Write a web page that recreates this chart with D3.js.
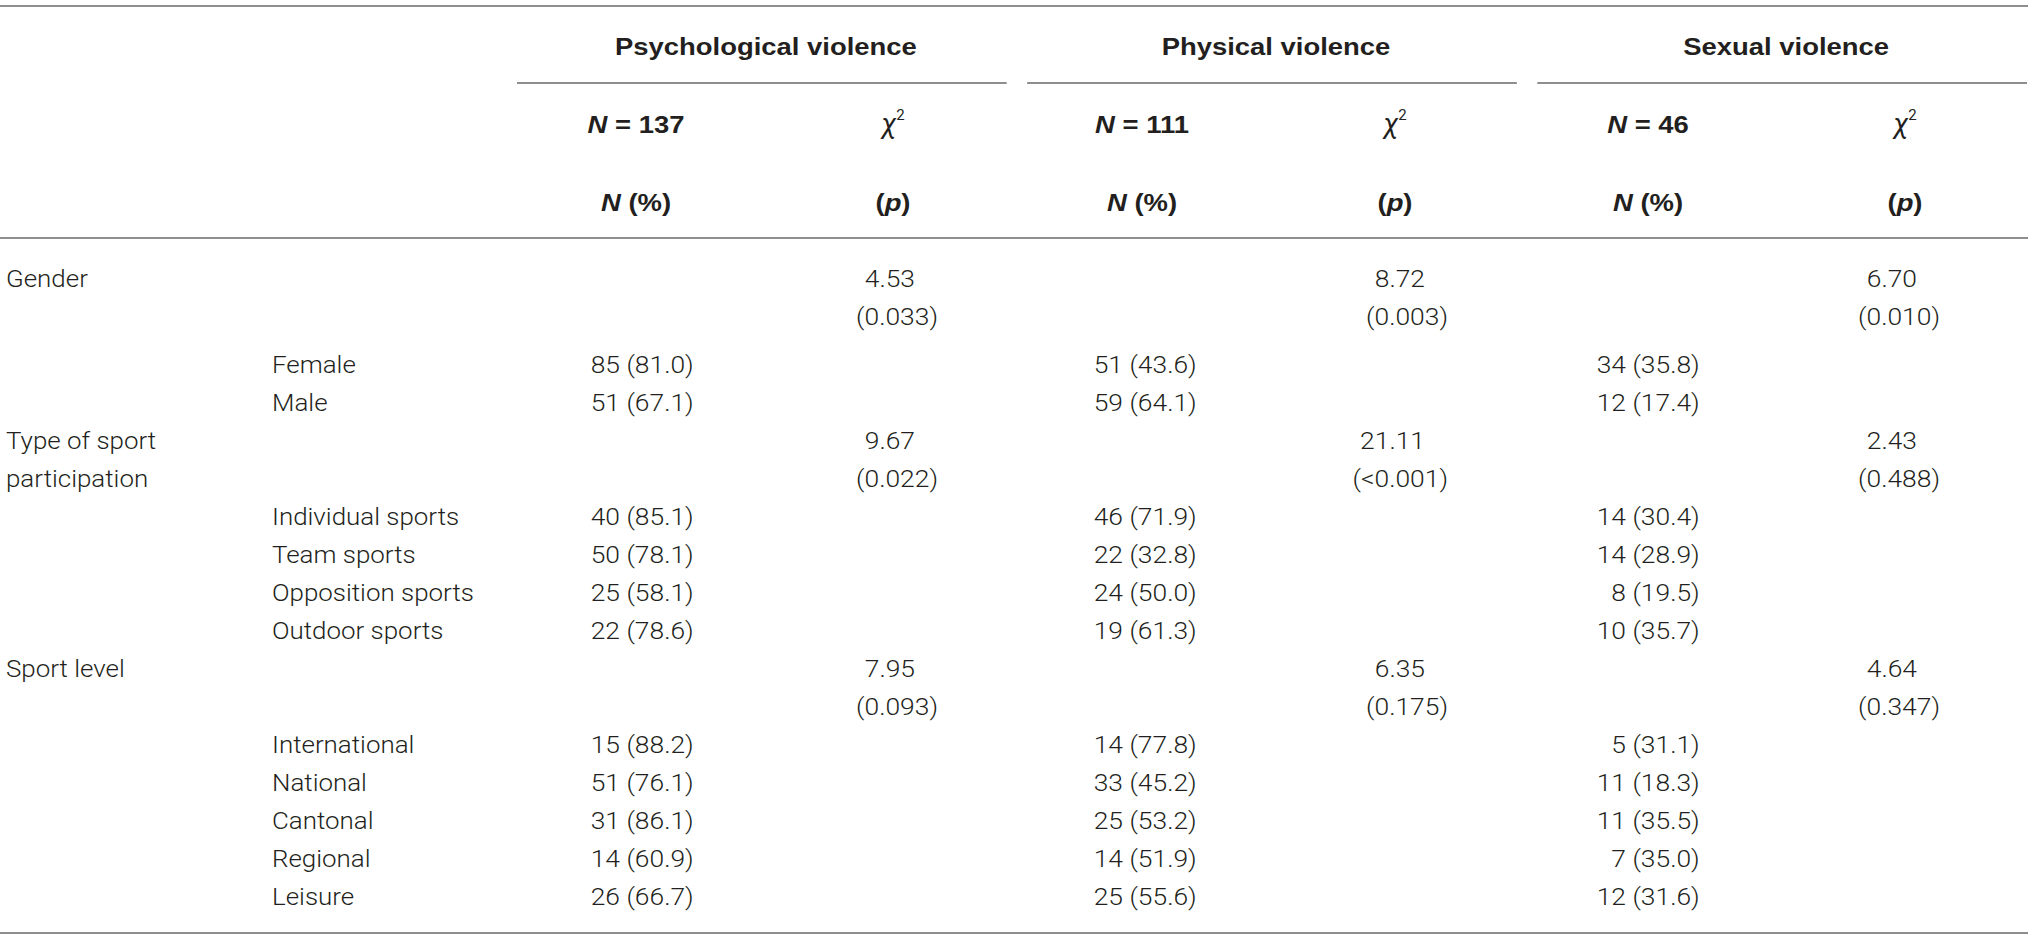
<!DOCTYPE html>
<html>
<head>
<meta charset="utf-8">
<script src="https://cdn.jsdelivr.net/npm/d3@7"></script>
<style>
  body { margin: 0; background: #fff; }
</style>
</head>
<body>
<div id="chart"></div>
<script>
const groups = ["Psychological violence", "Physical violence", "Sexual violence"]
const groupN = [137, 111, 46]
const variables = ["Gender", "Type of sport participation", "Sport level"]
const categories = [
    ["Female", "Male"],
    ["Individual sports", "Team sports", "Opposition sports", "Outdoor sports"],
    ["International", "National", "Cantonal", "Regional", "Leisure"]
]

const psychN   = [85, 51, 40, 50, 25, 22, 15, 51, 31, 14, 26]
const psychPct = [81.0, 67.1, 85.1, 78.1, 58.1, 78.6, 88.2, 76.1, 86.1, 60.9, 66.7]
const physN    = [51, 59, 46, 22, 24, 19, 14, 33, 25, 14, 25]
const physPct  = [43.6, 64.1, 71.9, 32.8, 50.0, 61.3, 77.8, 45.2, 53.2, 51.9, 55.6]
const sexN     = [34, 12, 14, 14, 8, 10, 5, 11, 11, 7, 12]
const sexPct   = [35.8, 17.4, 30.4, 28.9, 19.5, 35.7, 31.1, 18.3, 35.5, 35.0, 31.6]

const psychChi = [4.53, 9.67, 7.95]
const psychP   = ["0.033", "0.022", "0.093"]
const physChi  = [8.72, 21.11, 6.35]
const physP    = ["0.003", "<0.001", "0.175"]
const sexChi   = [6.70, 2.43, 4.64]
const sexP     = ["0.010", "0.488", "0.347"]

const series = [
    {n: psychN, pct: psychPct, chi: psychChi, p: psychP},
    {n: physN,  pct: physPct,  chi: physChi,  p: physP},
    {n: sexN,   pct: sexPct,   chi: sexChi,   p: sexP}
]

// ---- layout ----
const size = {WIDTH: 2032, HEIGHT: 941}
const ink = "#231f20"
const ruleColor = "#8e8e8e"
const light = "Roboto, 'Liberation Sans', sans-serif"
const bold = "'Liberation Sans', Arial, sans-serif"
const body = {size: 24, sx: 1.08}
const head = {size: 24.5, sx: 1.12}

const lineH = 38
const firstY = 287
const gapAfter = [10, 0, 0]
const labelX = 6
const catX = 272

const band = d3.scaleBand().domain(groups).range([517, 2027]).paddingInner(0.04)
const nLeft = d3.scaleOrdinal().domain(groups).range([590, 1093, 1596])
const chiRight = d3.scaleOrdinal().domain(groups).range([915, 1425, 1917])
const nHeadX = d3.scaleOrdinal().domain(groups).range([636, 1142, 1648])
const chiHeadX = d3.scaleOrdinal().domain(groups).range([893, 1395, 1905])

const fPct = d3.format(".1f")
const fChi = d3.format(".2f")

const svg = d3.select("#chart")
              .append("svg")
              .attr("width", size.WIDTH)
              .attr("height", size.HEIGHT)

const place = (x, y, sx) => `translate(${x},${y}) scale(${sx},1)`

const bodyText = (sel) => sel.attr("font-family", light)
                             .attr("font-weight", 300)
                             .attr("font-size", body.size)
                             .attr("fill", ink)

const headText = (sel) => sel.attr("font-family", bold)
                             .attr("font-weight", 700)
                             .attr("font-size", head.size)
                             .attr("fill", ink)

// ---- rules ----
const fullRules = [6, 238, 933]
svg.selectAll(".full")
   .data(fullRules)
   .join("line")
   .attr("class", "full")
   .attr("x1", 0)
   .attr("x2", 2028)
   .attr("y1", (d) => d)
   .attr("y2", (d) => d)
   .attr("stroke", ruleColor)
   .attr("stroke-width", 2)

svg.selectAll(".sub")
   .data(groups)
   .join("line")
   .attr("class", "sub")
   .attr("x1", (d) => band(d))
   .attr("x2", (d) => band(d) + band.bandwidth())
   .attr("y1", 83)
   .attr("y2", 83)
   .attr("stroke", ruleColor)
   .attr("stroke-width", 2)

// ---- header ----
svg.selectAll(".gtitle")
   .data(groups)
   .join("text")
   .attr("class", "gtitle")
   .attr("transform", (d) => place(band(d) + band.bandwidth() / 2 + 4, 55, head.sx))
   .attr("text-anchor", "middle")
   .call(headText)
   .text((d) => d)

const nHead = svg.selectAll(".nhead")
   .data(groups)
   .join("text")
   .attr("class", "nhead")
   .attr("transform", (d) => place(nHeadX(d), 133, head.sx))
   .attr("text-anchor", "middle")
   .call(headText)
nHead.append("tspan").attr("font-style", "italic").text("N")
nHead.append("tspan").text((d, i) => " = " + groupN[i])

const pctHead = svg.selectAll(".pcthead")
   .data(groups)
   .join("text")
   .attr("class", "pcthead")
   .attr("transform", (d) => place(nHeadX(d), 211, head.sx))
   .attr("text-anchor", "middle")
   .call(headText)
pctHead.append("tspan").attr("font-style", "italic").text("N")
pctHead.append("tspan").text(" (%)")

const chiHead = svg.selectAll(".chihead")
   .data(groups)
   .join("text")
   .attr("class", "chihead")
   .attr("transform", (d) => place(chiHeadX(d), 133, 1))
   .attr("text-anchor", "middle")
   .call(bodyText)
   .attr("font-weight", 400)
chiHead.append("tspan").attr("font-style", "italic").attr("font-size", 28).text("χ")
chiHead.append("tspan").attr("font-size", 15).attr("dy", -13).text("2")

const pHead = svg.selectAll(".phead")
   .data(groups)
   .join("text")
   .attr("class", "phead")
   .attr("transform", (d) => place(chiHeadX(d), 211, head.sx))
   .attr("text-anchor", "middle")
   .call(headText)
pHead.append("tspan").text("(")
pHead.append("tspan").attr("font-style", "italic").text("p")
pHead.append("tspan").text(")")

// ---- body rows ----
let y = firstY
let flat = 0
const labelRows = []
const catRows = []
variables.forEach((v, vi) => {
    labelRows.push({v: v, vi: vi, y: y})
    const start = y + 2 * lineH + gapAfter[vi]
    categories[vi].forEach((c, ci) => {
        catRows.push({c: c, k: flat, y: start + ci * lineH})
        flat += 1
    })
    y = start + categories[vi].length * lineH
})

// variable labels, wrapped to the first column
const labels = svg.selectAll(".vlabel")
   .data(labelRows)
   .join("text")
   .attr("class", "vlabel")
   .attr("transform", (d) => place(labelX, d.y, body.sx))
   .call(bodyText)
labels.each(function (d) {
    const el = d3.select(this)
    const words = d.v.split(" ")
    let line = []
    let tspan = el.append("tspan").attr("x", 0).attr("y", 0)
    let row = 0
    words.forEach((w) => {
        line.push(w)
        tspan.text(line.join(" "))
        if (tspan.node().getComputedTextLength() * body.sx > 240 && line.length > 1) {
            line.pop()
            tspan.text(line.join(" "))
            line = [w]
            row += 1
            tspan = el.append("tspan").attr("x", 0).attr("y", row * lineH).text(w)
        }
    })
})

svg.selectAll(".clabel")
   .data(catRows)
   .join("text")
   .attr("class", "clabel")
   .attr("transform", (d) => place(catX, d.y, body.sx))
   .call(bodyText)
   .text((d) => d.c)

groups.forEach((g, gi) => {
    const s = series[gi]
    const countEnd = nLeft(g) + 30

    svg.selectAll(".count" + gi)
       .data(catRows)
       .join("text")
       .attr("class", "count" + gi)
       .attr("transform", (d) => place(countEnd, d.y, 1.1))
       .attr("text-anchor", "end")
       .call(bodyText)
       .text((d) => s.n[d.k])

    svg.selectAll(".pct" + gi)
       .data(catRows)
       .join("text")
       .attr("class", "pct" + gi)
       .attr("transform", (d) => place(countEnd, d.y, 1.1))
       .call(bodyText)
       .text((d) => " (" + fPct(s.pct[d.k]) + ")")
       .attr("xml:space", "preserve")

    svg.selectAll(".chi" + gi)
       .data(labelRows)
       .join("text")
       .attr("class", "chi" + gi)
       .attr("transform", (d) => place(chiRight(g), d.y, 1.1))
       .attr("text-anchor", "end")
       .call(bodyText)
       .text((d) => fChi(s.chi[d.vi]))

    svg.selectAll(".pval" + gi)
       .data(labelRows)
       .join("text")
       .attr("class", "pval" + gi)
       .attr("transform", (d) => place(chiRight(g) + 23, d.y + lineH, 1.1))
       .attr("text-anchor", "end")
       .call(bodyText)
       .text((d) => "(" + s.p[d.vi] + ")")
})
</script>
</body>
</html>
